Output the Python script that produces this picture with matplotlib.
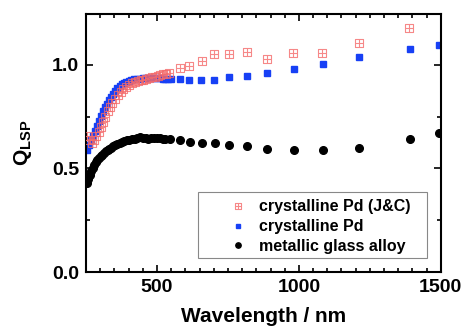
import matplotlib
matplotlib.use('Agg')
import matplotlib.pyplot as plt
from matplotlib.path import Path
from matplotlib.patches import Rectangle
from matplotlib.ticker import MultipleLocator

plt.rcParams['font.family'] = ['Liberation Sans', 'DejaVu Sans']
plt.rcParams['font.weight'] = 'bold'
plt.rcParams['mathtext.fontset'] = 'custom'
plt.rcParams['mathtext.rm'] = 'Liberation Sans:bold'
plt.rcParams['mathtext.it'] = 'Liberation Sans:italic:bold'
plt.rcParams['mathtext.bf'] = 'Liberation Sans:bold'

# crystalline Pd (J&C)
wl_jc = [253, 262, 270, 278, 286, 294, 302, 310, 318, 326, 334, 342, 352, 362,
         372, 382, 392, 402, 412, 422, 432, 442, 452, 462, 472, 482, 492, 502,
         512, 522, 532, 542, 581, 614, 657, 701, 752, 816, 887, 980, 1082,
         1212, 1388]
q_jc = [0.655, 0.635, 0.625, 0.635, 0.655, 0.675, 0.70, 0.725, 0.75, 0.775,
        0.795, 0.815, 0.835, 0.855, 0.87, 0.885, 0.895, 0.905, 0.91, 0.915,
        0.92, 0.925, 0.928, 0.932, 0.935, 0.94, 0.942, 0.945, 0.95, 0.955,
        0.958, 0.96, 0.985, 0.995, 1.02, 1.05, 1.05, 1.06, 1.03, 1.057, 1.057,
        1.105, 1.18]

# crystalline Pd
wl_pd = [253, 260, 267, 274, 281, 288, 295, 302, 309, 316, 323, 330, 337, 344,
         352, 360, 368, 376, 384, 392, 400, 410, 420, 430, 440, 450, 460, 470,
         480, 490, 500, 510, 520, 530, 540, 550, 581, 613, 655, 701, 753, 817,
         888, 982, 1084, 1211, 1390, 1493]
q_pd = [0.59, 0.615, 0.635, 0.655, 0.68, 0.705, 0.73, 0.755, 0.775, 0.795,
        0.81, 0.83, 0.845, 0.86, 0.875, 0.888, 0.898, 0.906, 0.912, 0.918,
        0.922, 0.926, 0.93, 0.932, 0.934, 0.935, 0.936, 0.937, 0.937, 0.937,
        0.936, 0.935, 0.934, 0.934, 0.933, 0.933, 0.933, 0.928, 0.928, 0.928,
        0.94, 0.947, 0.96, 0.98, 1.005, 1.037, 1.077, 1.096]

# metallic glass alloy
wl_mg = [253, 258, 263, 268, 273, 278, 284, 290, 296, 302, 308, 314, 320, 326,
         332, 338, 345, 352, 360, 368, 376, 385, 394, 403, 412, 421, 430, 440,
         450, 460, 470, 480, 490, 500, 510, 520, 530, 546, 581, 616, 658, 704,
         753, 817, 888, 982, 1084, 1211, 1390, 1493]
q_mg = [0.43, 0.45, 0.47, 0.49, 0.50, 0.515, 0.53, 0.54, 0.55, 0.56, 0.567,
        0.575, 0.582, 0.59, 0.596, 0.601, 0.606, 0.612, 0.618, 0.624, 0.628,
        0.632, 0.635, 0.638, 0.641, 0.643, 0.646, 0.65, 0.647, 0.649, 0.644,
        0.646, 0.645, 0.646, 0.645, 0.643, 0.642, 0.64, 0.635, 0.63, 0.625,
        0.625, 0.615, 0.61, 0.596, 0.59, 0.587, 0.60, 0.64, 0.673]

# square with a cross inside
box_cross = Path(
    [(-1, -1), (1, -1), (1, 1), (-1, 1), (-1, -1), (0, -1), (0, 1), (-1, 0), (1, 0)],
    [Path.MOVETO, Path.LINETO, Path.LINETO, Path.LINETO, Path.LINETO,
     Path.MOVETO, Path.LINETO, Path.MOVETO, Path.LINETO])

fig = plt.figure(figsize=(4.65, 3.27), dpi=100)
ax = fig.add_axes([0.185, 0.168, 0.763, 0.789])

ax.plot(wl_jc, q_jc, ls='none', marker=box_cross, ms=5.8, mfc='none',
        mec='#f46a6a', mew=0.8, alpha=0.8, label='crystalline Pd (J&C)', zorder=3)
ax.plot(wl_pd, q_pd, ls='none', marker='s', ms=5, color='#1740f5',
        label='crystalline Pd', zorder=2)
ax.plot(wl_mg, q_mg, ls='none', marker='o', ms=5.5, color='black',
        label='metallic glass alloy', zorder=2)

ax.set_xlim(250, 1500)
ax.set_ylim(0, 1.245)
ax.xaxis.set_major_locator(MultipleLocator(500))
ax.xaxis.set_minor_locator(MultipleLocator(50))
ax.yaxis.set_major_locator(MultipleLocator(0.5))
ax.yaxis.set_minor_locator(MultipleLocator(0.25))
ax.yaxis.set_major_formatter(matplotlib.ticker.FormatStrFormatter('%.1f'))
ax.tick_params(which='both', direction='in', top=True, right=True,
               labelsize=14, width=1.2)
ax.tick_params(which='major', length=5, pad=5)
ax.tick_params(which='minor', length=3)
for s in ax.spines.values():
    s.set_linewidth(1.5)

ax.set_xlabel('Wavelength / nm', fontsize=15, fontweight='bold', labelpad=8)
ax.set_ylabel(r'$\mathbf{Q}_{\mathbf{LSP}}$', fontsize=15, labelpad=13)

# legend box drawn separately, entries without frame
ax.add_patch(Rectangle((0.3155, 0.056), 0.645, 0.254, transform=ax.transAxes,
                       facecolor='white', edgecolor='#888888', lw=0.8, zorder=4))
leg = ax.legend(loc='center left', bbox_to_anchor=(0.405, 0.176), fontsize=11.5,
                frameon=False, handlelength=1.0, handletextpad=0.85,
                borderpad=0, labelspacing=0.3, borderaxespad=0, markerscale=0.7)
leg.set_zorder(5)

fig.savefig('out.png', dpi=100)
